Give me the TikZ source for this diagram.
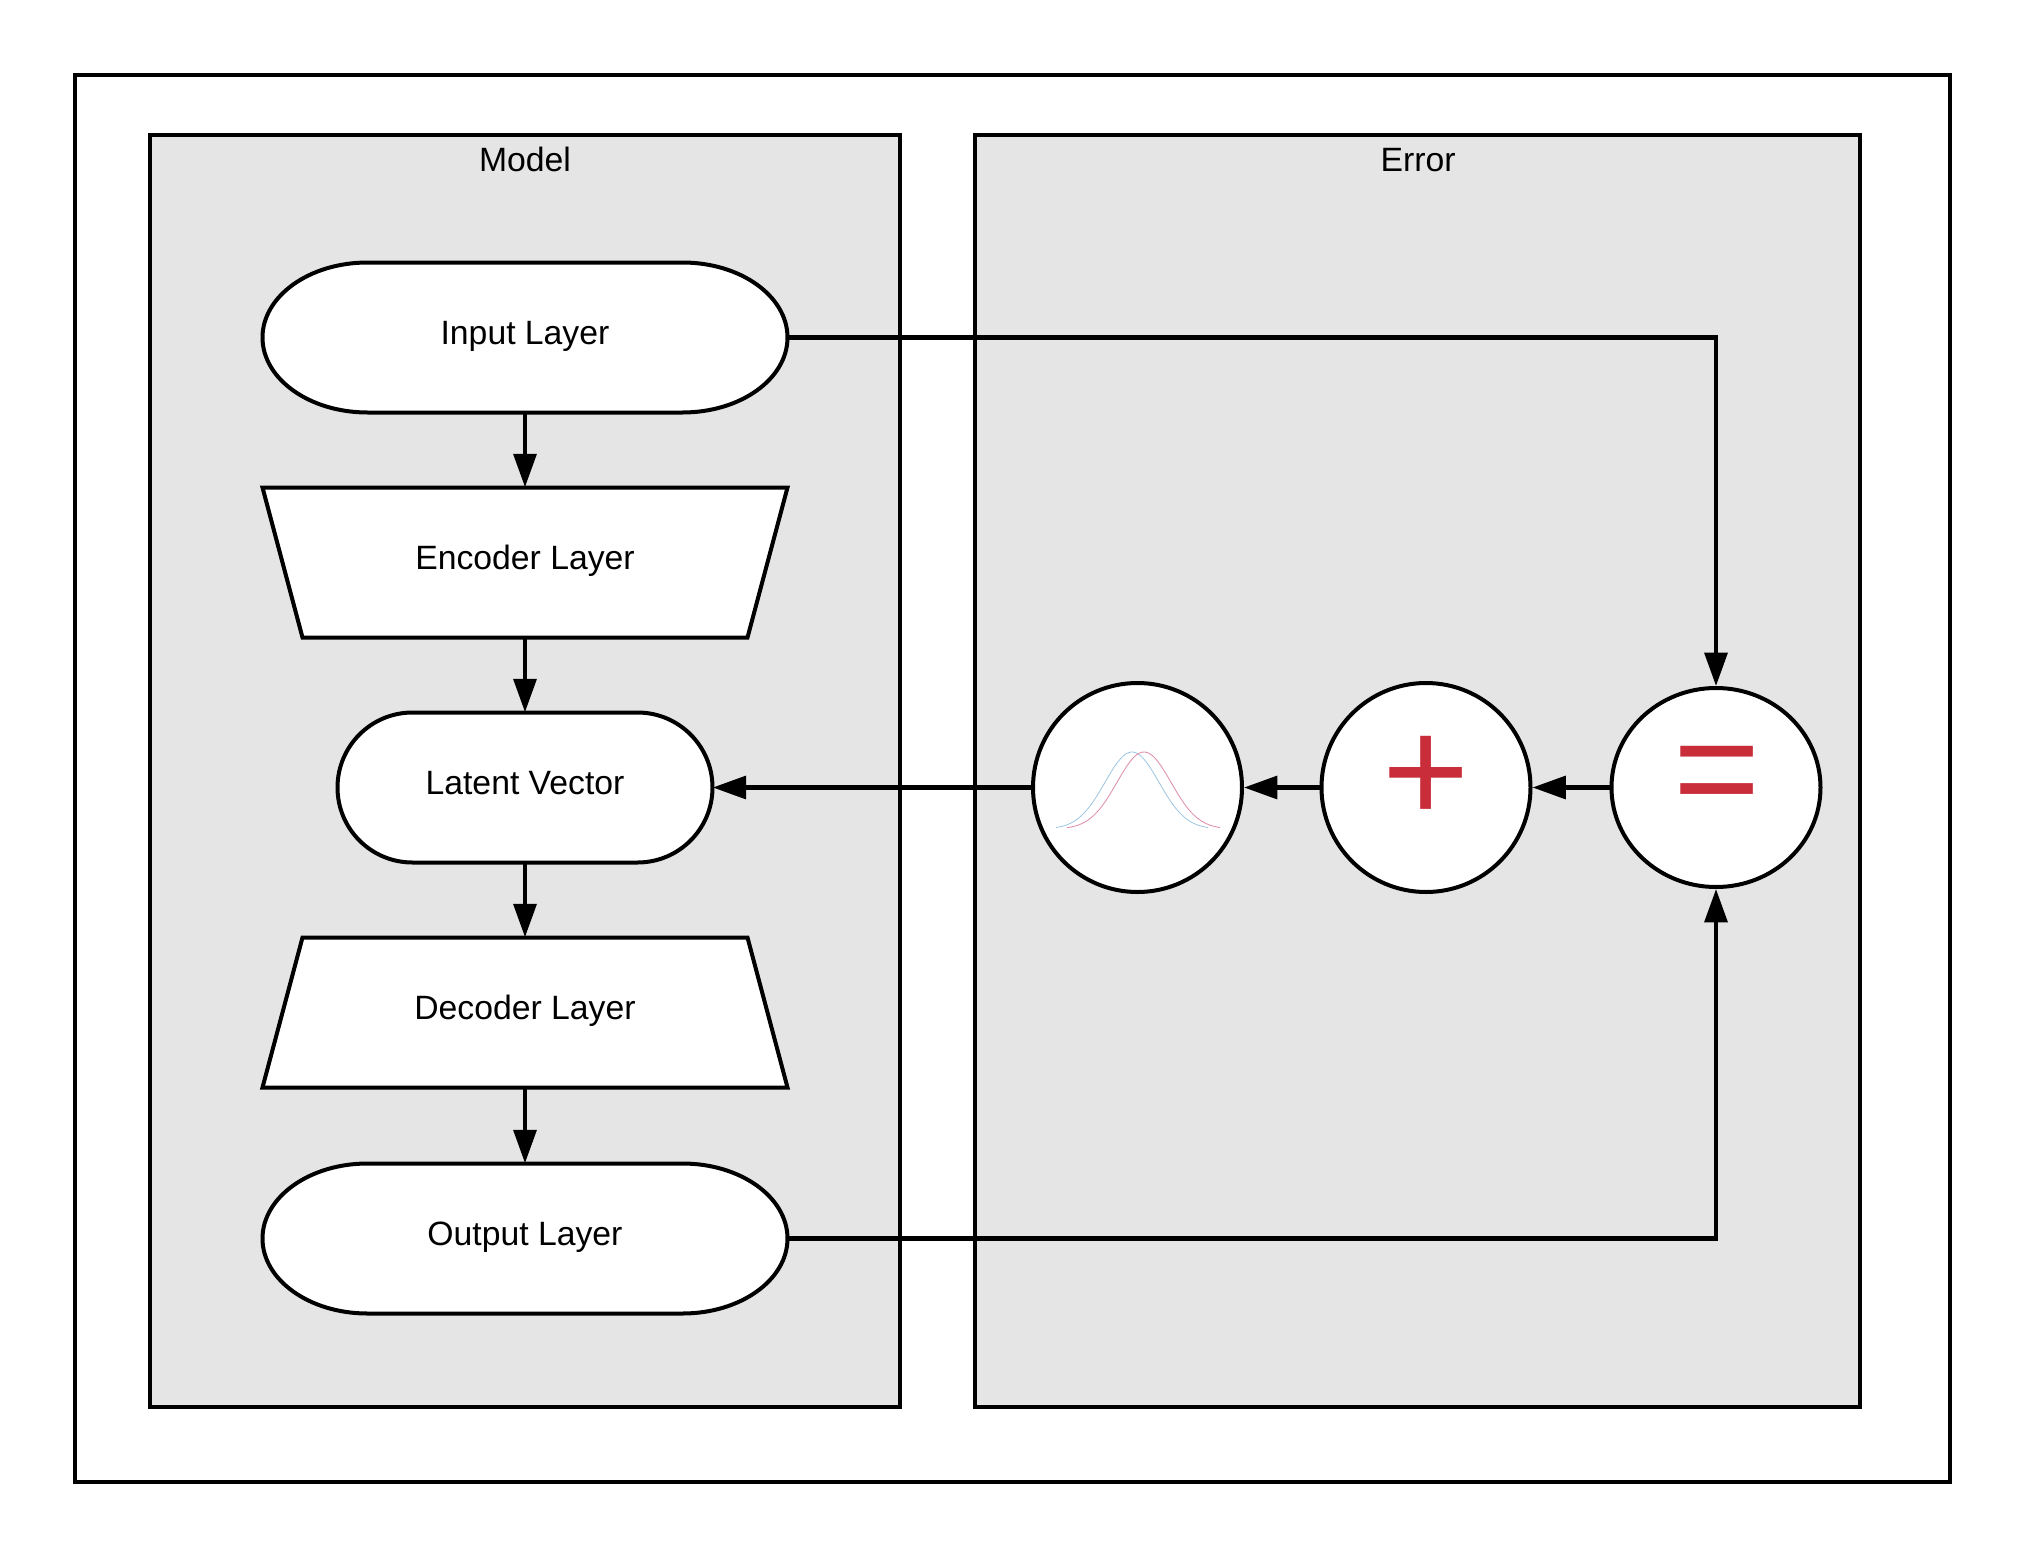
\documentclass[tikz,border=0pt]{standalone}
\usepackage{fontspec}
\setmainfont{Liberation Sans}
\usetikzlibrary{arrows.meta,shapes.geometric}
\definecolor{panelgrey}{HTML}{E5E5E5}
\definecolor{markred}{HTML}{C92D39}
\definecolor{curveblue}{HTML}{9CC6E2}
\definecolor{curvered}{HTML}{E08AA6}
\tikzset{
  shapeline/.style={draw=black,line width=3pt,fill=white},
  outerbox/.style={draw=black,line width=3.2pt,fill=white,minimum width=1875*0.75pt,minimum height=1407*0.75pt,inner sep=0pt},
  panel/.style={draw=black,line width=3.2pt,fill=panelgrey,inner sep=0pt},
  txt/.style={font=\fontsize{25.3pt}{30pt}\selectfont,text height=18pt,text depth=8.25pt,inner sep=0pt},
  disc/.style={shapeline,ellipse,inner sep=0pt},
  markglyph/.style={text=markred,font=\fontsize{112pt}{112pt}\selectfont,inner sep=0pt},
  conn/.style={draw=black,line width=3.2pt,-{Triangle[length=25pt,width=17pt]}},
  curve/.style={line width=0.6pt,line join=round},
}
% name, cx, cy, half width, x radius of the ends, text
\newcommand{\stadium}[6]{%
  \path[shapeline]
    ({#2-#4+#5},{#3-75}) -- ({#2+#4-#5},{#3-75})
    .. controls ({#2+#4-0.4477*#5},{#3-75}) and ({#2+#4},{#3-41.4}) .. ({#2+#4},{#3})
    .. controls ({#2+#4},{#3+41.4}) and ({#2+#4-0.4477*#5},{#3+75}) .. ({#2+#4-#5},{#3+75})
    -- ({#2-#4+#5},{#3+75})
    .. controls ({#2-#4+0.4477*#5},{#3+75}) and ({#2-#4},{#3+41.4}) .. ({#2-#4},{#3})
    .. controls ({#2-#4},{#3-41.4}) and ({#2-#4+0.4477*#5},{#3-75}) .. ({#2-#4+#5},{#3-75}) -- cycle;
  \node[txt,minimum width=2*#4*0.75pt,minimum height=150*0.75pt] (#1) at (#2,#3) {#6};
}
% name, cx, cy, half width at y-75, half width at y+75, text
\newcommand{\slab}[6]{%
  \path[shapeline,line join=miter]
    ({#2-#4},{#3-75}) -- ({#2+#4},{#3-75}) -- ({#2+#5},{#3+75}) -- ({#2-#5},{#3+75}) -- cycle;
  \node[txt,minimum width=445*0.75pt,minimum height=150*0.75pt] (#1) at (#2,#3) {#6};
}
\begin{document}
\begin{tikzpicture}[x=0.75pt,y=-0.75pt]
\useasboundingbox (0,0) rectangle (2025,1556);
\fill[white] (0,0) rectangle (2025,1556);
\node[outerbox] (outer) at (1012.5,778.5) {};
\node[panel,minimum width=750*0.75pt,minimum height=1272*0.75pt] (model) at (525,771) {};
\node[panel,minimum width=885*0.75pt,minimum height=1272*0.75pt] (error) at (1417.5,771) {};
\node[txt] (modellabel) at (525,164.5) {Model};
\node[txt] (errorlabel) at (1418,164.5) {Error};

\stadium{input}{525}{337.5}{262.5}{105}{Input Layer}
\slab{encoder}{525}{562.5}{262.5}{222.5}{Encoder Layer}
\stadium{latent}{525}{787.5}{187.5}{75}{Latent Vector}
\slab{decoder}{525}{1012.5}{222.5}{262.5}{Decoder Layer}
\stadium{output}{525}{1238.5}{262.5}{105}{Output Layer}

\node[disc,minimum width=209*0.75pt,minimum height=209*0.75pt] (gauss) at (1137.5,787.5) {};
\node[disc,minimum width=209*0.75pt,minimum height=209*0.75pt] (plus) at (1426,787.5) {};
\node[disc,minimum width=209*0.75pt,minimum height=199*0.75pt] (equal) at (1716,787.5) {};
\node[markglyph] (plusmark) at (1426.5,779.5) {+};
\node[markglyph] (equalmark) at (1717,783) {=};

\draw[curve,curveblue] plot[smooth,domain=1056:1208,samples=60] (\x,{829-77*exp(-((\x-1132)^2)/1458)});
\draw[curve,curvered] plot[smooth,domain=1067:1220,samples=60] (\x,{829-77*exp(-((\x-1144)^2)/1458)});

\draw[conn] (input) -- (encoder);
\draw[conn] (encoder) -- (latent);
\draw[conn] (latent) -- (decoder);
\draw[conn] (decoder) -- (output);
\draw[conn] (input.east) -| (equal.north);
\draw[conn] (output.east) -| (equal.south);
\draw[conn] (equal.west) -- (plus.east);
\draw[conn] (plus.west) -- (gauss.east);
\draw[conn] (gauss.west) -- (latent.east);
\end{tikzpicture}
\end{document}
